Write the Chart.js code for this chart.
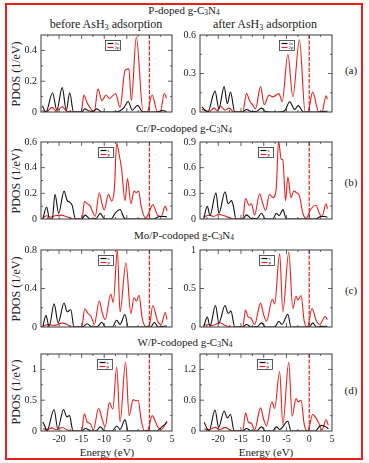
<!DOCTYPE html>
<html>
<head>
<meta charset="utf-8">
<script src="https://cdn.jsdelivr.net/npm/chart.js@4.4.1/dist/chart.umd.min.js"></script>
<style>
  html, body { margin: 0; padding: 0; background: #fff; }
  body { width: 369px; height: 463px; position: relative; overflow: hidden; font-family: 'Liberation Serif', 'Times New Roman', serif; color: #222; }
  #frame { position: absolute; left: 5px; top: 3px; width: 358px; height: 457px; border: 2px solid #e8201c; box-sizing: border-box; }
  .lbl { position: absolute; transform: translate(-50%, -50%); white-space: nowrap; line-height: 1; }
  .lbl sub { font-size: 68%; vertical-align: baseline; position: relative; top: 0.2em; }
  .ylab { transform: translate(-50%, -50%) rotate(-90deg); }
  .panel { position: absolute; }
</style>
</head>
<body>
<div id="frame"></div>

<div class="lbl" style="left:184px; top:10px; font-size:11px;">P-doped g-C<sub>3</sub>N<sub>4</sub></div>
<div class="lbl" style="left:106px; top:24px; font-size:12px;">before AsH<sub>3</sub> adsorption</div>
<div class="lbl" style="left:265px; top:24px; font-size:12px;">after AsH<sub>3</sub> adsorption</div>
<div class="lbl" style="left:184px; top:128px; font-size:11px;">Cr/P-codoped g-C<sub>3</sub>N<sub>4</sub></div>
<div class="lbl" style="left:184px; top:235px; font-size:11px;">Mo/P-codoped g-C<sub>3</sub>N<sub>4</sub></div>
<div class="lbl" style="left:185px; top:342px; font-size:11px;">W/P-codoped g-C<sub>3</sub>N<sub>4</sub></div>

<div class="lbl ylab" style="left:16px; top:74px; font-size:12px;">PDOS (1/eV)</div>
<div class="lbl ylab" style="left:16px; top:181px; font-size:12px;">PDOS (1/eV)</div>
<div class="lbl ylab" style="left:16px; top:289px; font-size:12px;">PDOS (1/eV)</div>
<div class="lbl ylab" style="left:16px; top:392px; font-size:12px;">PDOS (1/eV)</div>

<div class="lbl" style="left:351px; top:70px; font-size:11px;">(a)</div>
<div class="lbl" style="left:351px; top:182px; font-size:11px;">(b)</div>
<div class="lbl" style="left:351px; top:290px; font-size:11px;">(c)</div>
<div class="lbl" style="left:351px; top:390px; font-size:11px;">(d)</div>

<div class="lbl" style="left:107px; top:452px; font-size:11px;">Energy (eV)</div>
<div class="lbl" style="left:266px; top:452px; font-size:11px;">Energy (eV)</div>

<script>
// energy axis
const xMin = -24, xMax = 5;
const xTicks = [-20, -15, -10, -5, 0, 5];

// (a) P-doped, before / after AsH3  -- [energy, pdos]
const aBeforeS = [[-23.7,0.04],[-22.9,0.0],[-21.45,0.125],[-20.5,0.012],[-19.3,0.158],[-18.4,0.01],[-17.65,0.125],[-16.8,0.0],[-15.0,0.0],[-14.3,0.02],[-13.5,0.008],[-12.6,0.004],[-11.6,0.02],[-10.6,0.0],[-8.0,0.0],[-6.5,0.008],[-5.6,0.03],[-4.7,0.068],[-3.8,0.012],[-2.6,0.043],[-1.5,0.0],[1.5,0.0],[2.9,0.01],[3.8,0.004]];
const aBeforeP = [[-23.7,0.01],[-22.9,0.0],[-21.5,0.03],[-20.6,0.004],[-19.3,0.035],[-18.3,0.004],[-17.3,0.002],[-16.5,0.0],[-15.1,0.0],[-14.5,0.11],[-13.8,0.06],[-13.1,0.027],[-12.2,0.0],[-11.4,0.15],[-10.5,0.074],[-9.6,0.11],[-8.85,0.088],[-7.5,0.12],[-6.5,0.03],[-5.4,0.27],[-4.55,0.28],[-4.0,0.074],[-2.9,0.486],[-1.4,0.0],[-0.5,0.0],[0.6,0.11],[1.8,0.0],[2.4,0.0],[3.3,0.12],[3.8,0.09]];
const aAfterS = [[-23.6,0.04],[-22.3,0.0],[-20.7,0.163],[-19.85,0.025],[-18.7,0.198],[-18.0,0.064],[-17.3,0.155],[-16.35,0.0],[-14.6,0.0],[-13.8,0.02],[-12.7,0.004],[-11.5,0.006],[-10.5,0.03],[-9.6,0.004],[-7.0,0.0],[-5.4,0.01],[-4.3,0.08],[-3.2,0.02],[-2.4,0.05],[-1.3,0.0],[2.0,0.0],[3.7,0.006],[4.0,0.004]];
const aAfterP = [[-23.6,0.02],[-22.0,0.003],[-20.9,0.03],[-20.2,0.01],[-19.5,0.045],[-18.5,0.015],[-17.6,0.03],[-16.5,0.0],[-14.6,0.0],[-13.8,0.143],[-13.0,0.08],[-12.5,0.06],[-11.8,0.025],[-10.7,0.198],[-9.9,0.057],[-8.85,0.13],[-8.0,0.118],[-6.67,0.143],[-5.94,0.08],[-4.7,0.45],[-3.6,0.118],[-2.15,0.563],[-0.9,0.0],[-0.3,0.0],[0.76,0.155],[2.1,0.0],[2.8,0.0],[3.7,0.126],[4.0,0.1]];

// (b) Cr/P-codoped
const bBeforeS = [[-23.6,0.0],[-22.76,0.094],[-22.1,0.0],[-21.5,0.0],[-20.9,0.193],[-20.1,0.044],[-18.9,0.217],[-18.2,0.143],[-17.6,0.13],[-17.1,0.106],[-16.35,0.0],[-15.0,0.0],[-14.2,0.03],[-13.1,0.0],[-11.8,0.004],[-10.9,0.044],[-9.9,0.0],[-8.5,0.0],[-7.6,0.044],[-6.5,0.074],[-5.7,0.015],[-5.2,0.0],[1.0,0.0],[2.2,0.02],[3.5,0.02],[3.9,0.015]];
const bBeforeP = [[-23.6,0.01],[-22.7,0.025],[-21.8,0.015],[-20.9,0.025],[-19.6,0.03],[-18.5,0.02],[-17.4,0.005],[-16.7,0.0],[-14.9,0.0],[-14.4,0.136],[-13.8,0.12],[-13.1,0.1],[-12.5,0.05],[-12.0,0.02],[-11.1,0.205],[-10.5,0.12],[-10.0,0.07],[-9.07,0.193],[-8.35,0.14],[-7.76,0.235],[-7.25,0.59],[-6.74,0.51],[-6.16,0.39],[-5.4,0.143],[-4.85,0.316],[-4.1,0.12],[-3.4,0.217],[-2.9,0.205],[-2.4,0.217],[-1.8,0.094],[-0.84,0.007],[-0.33,0.032],[0.76,0.11],[1.8,0.03],[2.6,0.02],[3.5,0.1],[3.9,0.064]];
const bAfterS = [[-23.2,0.0],[-22.4,0.148],[-21.8,0.04],[-20.5,0.307],[-19.85,0.067],[-18.5,0.318],[-17.8,0.178],[-17.1,0.215],[-16.7,0.16],[-16.1,0.0],[-14.6,0.0],[-13.8,0.048],[-12.7,0.005],[-11.5,0.005],[-10.5,0.067],[-9.6,0.0],[-8.0,0.0],[-7.25,0.067],[-6.6,0.04],[-5.8,0.11],[-5.0,0.0],[1.5,0.0],[2.5,0.03],[3.5,0.03],[4.0,0.02]];
const bAfterP = [[-23.2,0.022],[-22.0,0.044],[-21.0,0.03],[-19.9,0.055],[-18.8,0.04],[-17.3,0.01],[-16.6,0.0],[-14.6,0.0],[-14.0,0.24],[-13.2,0.16],[-12.7,0.178],[-12.0,0.048],[-10.9,0.296],[-10.2,0.178],[-9.6,0.1],[-8.7,0.289],[-8.0,0.25],[-7.25,0.36],[-6.74,0.91],[-6.16,0.7],[-5.8,0.69],[-5.2,0.215],[-4.7,0.49],[-4.0,0.25],[-3.4,0.326],[-2.8,0.307],[-2.15,0.27],[-1.4,0.067],[-0.7,0.007],[0.4,0.12],[1.5,0.16],[2.2,0.067],[2.8,0.03],[3.7,0.178],[4.0,0.12]];

// (c) Mo/P-codoped
const cBeforeS = [[-23.6,0.0],[-22.9,0.118],[-22.2,0.005],[-21.1,0.24],[-20.2,0.043],[-18.9,0.25],[-18.2,0.158],[-17.4,0.18],[-16.7,0.0],[-14.8,0.0],[-13.8,0.033],[-12.7,0.0],[-11.5,0.005],[-10.5,0.05],[-9.8,0.0],[-8.2,0.0],[-7.25,0.07],[-6.5,0.026],[-5.4,0.13],[-4.7,0.0],[0.3,0.0],[1.1,0.05],[1.9,0.0],[3.5,0.01],[3.9,0.01]];
const cBeforeP = [[-23.6,0.01],[-22.5,0.026],[-21.1,0.016],[-19.3,0.04],[-18.2,0.026],[-17.2,0.0],[-15.0,0.0],[-14.3,0.19],[-13.6,0.14],[-12.9,0.11],[-12.2,0.026],[-11.1,0.27],[-10.4,0.14],[-9.8,0.076],[-8.56,0.34],[-8.0,0.257],[-7.1,0.8],[-6.5,0.158],[-5.2,0.668],[-4.1,0.14],[-3.4,0.306],[-2.9,0.27],[-2.3,0.33],[-1.6,0.09],[-0.7,0.003],[0.0,0.02],[0.76,0.224],[1.8,0.06],[2.6,0.026],[3.5,0.15],[3.9,0.076]];
const cAfterS = [[-23.2,0.0],[-22.4,0.128],[-21.8,0.008],[-20.6,0.28],[-19.85,0.054],[-18.5,0.28],[-17.8,0.177],[-17.2,0.206],[-16.35,0.0],[-14.6,0.0],[-13.8,0.033],[-12.7,0.0],[-11.4,0.005],[-10.5,0.054],[-9.6,0.0],[-7.6,0.0],[-6.7,0.074],[-6.0,0.033],[-4.7,0.165],[-4.0,0.0],[0.0,0.0],[0.76,0.054],[1.6,0.0],[3.5,0.01],[4.0,0.01]];
const cAfterP = [[-23.2,0.02],[-22.1,0.033],[-21.4,0.02],[-19.6,0.054],[-18.5,0.02],[-17.0,0.0],[-14.6,0.0],[-14.0,0.22],[-13.5,0.136],[-12.8,0.115],[-12.0,0.033],[-10.7,0.31],[-10.0,0.157],[-9.4,0.074],[-8.1,0.36],[-7.6,0.3],[-6.5,0.95],[-5.8,0.2],[-4.5,0.97],[-3.6,0.24],[-2.9,0.4],[-2.5,0.35],[-1.8,0.41],[-1.1,0.074],[-0.4,0.0],[0.6,0.24],[1.6,0.074],[2.3,0.033],[3.5,0.136],[4.0,0.095]];

// (d) W/P-codoped
const dBeforeS = [[-23.6,0.147],[-23.1,0.07],[-22.7,0.0],[-21.1,0.35],[-20.3,0.04],[-19.0,0.35],[-18.3,0.23],[-17.7,0.25],[-16.9,0.0],[-14.9,0.0],[-14.2,0.04],[-12.8,0.0],[-11.7,0.005],[-10.9,0.07],[-9.9,0.0],[-8.2,0.0],[-7.25,0.08],[-6.5,0.026],[-5.4,0.18],[-4.7,0.0],[1.5,0.0],[2.8,0.07],[3.9,0.14]];
const dBeforeP = [[-23.6,0.04],[-22.7,0.026],[-21.5,0.05],[-20.6,0.02],[-19.3,0.058],[-18.1,0.015],[-17.2,0.0],[-15.0,0.0],[-14.4,0.28],[-13.8,0.147],[-13.1,0.12],[-12.4,0.02],[-11.25,0.37],[-10.5,0.2],[-9.8,0.068],[-8.85,0.46],[-8.1,0.357],[-7.25,1.04],[-6.5,0.147],[-5.28,1.12],[-4.5,0.25],[-3.6,0.51],[-3.0,0.49],[-2.5,0.5],[-1.8,0.17],[-1.05,0.0],[-0.3,0.02],[0.6,0.25],[1.85,0.068],[2.6,0.026],[3.9,0.16]];
const dAfterS = [[-23.1,0.17],[-22.4,0.04],[-22.0,0.0],[-20.7,0.41],[-19.9,0.07],[-18.7,0.39],[-18.0,0.255],[-17.3,0.32],[-16.5,0.0],[-14.6,0.0],[-13.8,0.05],[-12.7,0.0],[-11.5,0.005],[-10.5,0.08],[-9.6,0.0],[-8.0,0.0],[-7.25,0.08],[-6.5,0.03],[-4.7,0.19],[-4.0,0.0],[1.3,0.0],[2.6,0.11],[3.7,0.08],[4.2,0.04]];
const dAfterP = [[-23.1,0.04],[-22.0,0.03],[-20.7,0.07],[-19.6,0.03],[-18.5,0.07],[-17.4,0.02],[-16.35,0.0],[-14.6,0.0],[-14.0,0.35],[-13.35,0.17],[-12.7,0.15],[-12.0,0.02],[-10.7,0.45],[-10.0,0.22],[-9.4,0.1],[-8.2,0.57],[-7.6,0.44],[-6.5,1.16],[-5.8,0.13],[-4.5,1.34],[-3.75,0.29],[-2.9,0.63],[-2.4,0.57],[-1.8,0.6],[-1.1,0.13],[-0.33,0.0],[0.76,0.32],[1.5,0.25],[2.2,0.13],[2.8,0.02],[3.7,0.22],[4.2,0.11]];

// y axis tick labels per panel
const yTicksA = [[0, 0.2, 0.4], [0, 0.3, 0.6]];
const yTicksB = [[0, 0.2, 0.4, 0.6], [0, 0.3, 0.6, 0.9]];
const yTicksC = [[0, 0.4, 0.8], [0, 0.5, 1]];
const yTicksD = [[0, 0.5, 1], [0, 0.6, 1.2]];
const yMaxes = [[0.5, 0.6], [0.6, 0.9], [0.8, 1], [1.25, 1.5]];

const legendA = ['2s', '2p'];
const legendBCD = ['s', 'p'];

const RED = '#e8201c';
const BLACK = '#111';
const FONT = 'Liberation Serif, Times New Roman, serif';

// inner ticks, box, Fermi line and legend (xmgrace look)
const framePlugin = {
  id: 'frame',
  afterDatasetsDraw(chart, args, opts) {
    const { ctx, chartArea: a, scales: { x, y } } = chart;
    ctx.save();
    // Fermi level
    const xf = x.getPixelForValue(0);
    ctx.strokeStyle = RED;
    ctx.lineWidth = 1.2;
    ctx.setLineDash([4, 1.5]);
    ctx.beginPath(); ctx.moveTo(xf, a.top); ctx.lineTo(xf, a.bottom); ctx.stroke();
    ctx.setLineDash([]);

    // box
    ctx.strokeStyle = '#3a3a3a';
    ctx.lineWidth = 1;
    ctx.strokeRect(a.left, a.top, a.right - a.left, a.bottom - a.top);

    // x ticks, major every 5, minor every 2.5
    ctx.lineWidth = 0.8;
    for (let v = Math.ceil(xMin / 2.5) * 2.5; v < xMax; v += 2.5) {
      const px = x.getPixelForValue(v);
      const len = v % 5 === 0 ? 4 : 2;
      ctx.beginPath();
      ctx.moveTo(px, a.bottom); ctx.lineTo(px, a.bottom - len);
      ctx.moveTo(px, a.top); ctx.lineTo(px, a.top + len);
      ctx.stroke();
    }
    // y ticks, minor at half step
    const step = opts.yTicks[1];
    for (let i = 1; i * step / 2 < y.max - 1e-9; i++) {
      const py = y.getPixelForValue(i * step / 2);
      const len = i % 2 === 0 ? 4 : 2;
      ctx.beginPath();
      ctx.moveTo(a.left, py); ctx.lineTo(a.left + len, py);
      ctx.moveTo(a.right, py); ctx.lineTo(a.right - len, py);
      ctx.stroke();
    }

    // legend box
    const bx = Math.round(a.left + opts.legendX * (a.right - a.left)) + 0.5;
    const by = a.top + 5.5, bw = 15, bh = 10;
    ctx.strokeStyle = '#333';
    ctx.lineWidth = 0.8;
    ctx.strokeRect(bx, by, bw, bh);
    ctx.lineWidth = 1.2;
    ctx.strokeStyle = BLACK;
    ctx.beginPath(); ctx.moveTo(bx + 2, by + 3); ctx.lineTo(bx + 8, by + 3); ctx.stroke();
    ctx.strokeStyle = RED;
    ctx.beginPath(); ctx.moveTo(bx + 2, by + 7); ctx.lineTo(bx + 8, by + 7); ctx.stroke();
    ctx.fillStyle = '#222';
    ctx.font = '5px ' + FONT;
    ctx.textBaseline = 'middle';
    ctx.fillText(opts.names[0], bx + 9, by + 3);
    ctx.fillText(opts.names[1], bx + 9, by + 7);
    ctx.restore();
  }
};

const cols = [{ left: 41, right: 172 }, { left: 200, right: 332 }];
const rows = [{ top: 33, bottom: 114 }, { top: 140, bottom: 221 }, { top: 248, bottom: 329 }, { top: 352, bottom: 431 }];
const legendXs = [[0.49, 0.6], [0.435, 0.44], [0.435, 0.447], [0.427, 0.43]];

const panelData = [
  [[aBeforeS, aBeforeP], [aAfterS, aAfterP]],
  [[bBeforeS, bBeforeP], [bAfterS, bAfterP]],
  [[cBeforeS, cBeforeP], [cAfterS, cAfterP]],
  [[dBeforeS, dBeforeP], [dAfterS, dAfterP]]
];
const panelTicks = [yTicksA, yTicksB, yTicksC, yTicksD];

function makePanel(r, c) {
  const box = { left: cols[c].left, right: cols[c].right, top: rows[r].top, bottom: rows[r].bottom };
  const bottomRow = r === rows.length - 1;
  const padL = 36, padT = 8, padR = 8, padB = bottomRow ? 22 : 8;
  const wrap = document.createElement('div');
  wrap.className = 'panel';
  wrap.style.left = (box.left - padL) + 'px';
  wrap.style.top = (box.top - padT) + 'px';
  wrap.style.width = (box.right - box.left + padL + padR) + 'px';
  wrap.style.height = (box.bottom - box.top + padT + padB) + 'px';
  const cv = document.createElement('canvas');
  wrap.appendChild(cv);
  document.body.appendChild(wrap);

  const [sData, pData] = panelData[r][c];
  const yTicks = panelTicks[r][c];
  const names = r === 0 ? legendA : legendBCD;
  const tickFont = { family: FONT, size: 10 };

  new Chart(cv, {
    type: 'line',
    data: {
      datasets: [
        { label: names[0], data: sData.map(([x, y]) => ({ x, y })), borderColor: BLACK },
        { label: names[1], data: pData.map(([x, y]) => ({ x, y })), borderColor: RED }
      ]
    },
    options: {
      responsive: true,
      maintainAspectRatio: false,
      animation: false,
      layout: { padding: { left: 0, top: padT, right: padR, bottom: bottomRow ? 0 : padB } },
      elements: {
        point: { radius: 0 },
        line: { borderWidth: 1.1, cubicInterpolationMode: 'monotone' }
      },
      plugins: {
        legend: { display: false },
        tooltip: { enabled: false },
        frame: { yTicks, names, legendX: legendXs[r][c] }
      },
      scales: {
        x: {
          type: 'linear', min: xMin, max: xMax, display: bottomRow,
          grid: { display: false, drawTicks: false }, border: { display: false },
          afterBuildTicks: s => { s.ticks = xTicks.map(v => ({ value: v })); },
          afterFit: s => { s.height = bottomRow ? 22 : 0; },
          ticks: { font: tickFont, color: '#222', padding: 2, maxRotation: 0, autoSkip: false, callback: v => String(v) }
        },
        y: {
          type: 'linear', min: 0, max: yMaxes[r][c],
          grid: { display: false, drawTicks: false }, border: { display: false },
          afterBuildTicks: s => { s.ticks = yTicks.map(v => ({ value: v })); },
          afterFit: s => { s.width = padL; },
          ticks: { font: tickFont, color: '#222', padding: 4, autoSkip: false, callback: v => String(v) }
        }
      }
    },
    plugins: [framePlugin]
  });
}

for (let r = 0; r < rows.length; r++) {
  for (let c = 0; c < cols.length; c++) makePanel(r, c);
}
</script>
</body>
</html>
